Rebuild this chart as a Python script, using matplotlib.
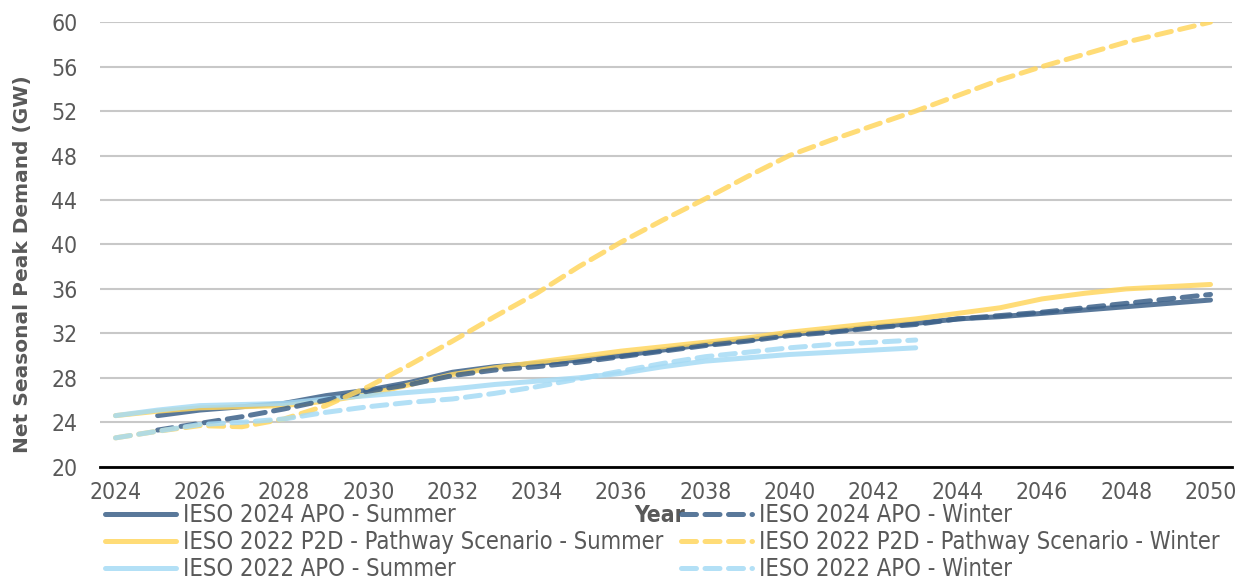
import matplotlib
matplotlib.use("Agg")
import matplotlib.pyplot as plt

plt.rcParams["font.family"] = ["DejaVu Sans"]
plt.rcParams["font.stretch"] = "condensed"

YEARS_2024_APO = list(range(2025, 2051))
YEARS_P2D = list(range(2024, 2051))
YEARS_2022_APO = list(range(2024, 2044))

APO_2024_SUMMER = [24.6, 25.1, 25.4, 25.7, 26.4, 26.9, 27.6, 28.5, 29.0, 29.3, 29.6, 30.0, 30.5,
                   31.0, 31.4, 31.9, 32.2, 32.6, 32.9, 33.3, 33.5, 33.8, 34.1, 34.4, 34.7, 35.0]
APO_2024_WINTER = [23.3, 23.9, 24.5, 25.2, 26.0, 26.8, 27.4, 28.2, 28.7, 29.0, 29.4, 29.9, 30.4,
                   30.9, 31.3, 31.8, 32.1, 32.5, 32.8, 33.3, 33.6, 33.9, 34.3, 34.7, 35.1, 35.5]
P2D_SUMMER = [24.6, 25.0, 25.3, 25.4, 25.5, 25.9, 26.5, 27.4, 28.3, 28.9, 29.4, 29.9, 30.4, 30.8,
              31.2, 31.6, 32.1, 32.5, 32.9, 33.3, 33.8, 34.3, 35.1, 35.6, 36.0, 36.2, 36.4]
P2D_WINTER = [22.6, 23.2, 23.7, 23.6, 24.3, 25.5, 27.2, 29.2, 31.3, 33.5, 35.6, 38.0, 40.2, 42.2,
              44.1, 46.1, 48.0, 49.4, 50.7, 52.0, 53.4, 54.8, 56.0, 57.1, 58.2, 59.1, 60.0]
APO_2022_SUMMER = [24.6, 25.1, 25.5, 25.6, 25.7, 26.1, 26.4, 26.7, 27.0, 27.4, 27.7, 28.0, 28.4,
                   29.0, 29.5, 29.8, 30.1, 30.3, 30.5, 30.7]
APO_2022_WINTER = [22.6, 23.2, 23.8, 24.0, 24.3, 24.9, 25.4, 25.8, 26.1, 26.6, 27.2, 27.9, 28.6,
                   29.3, 29.9, 30.3, 30.7, 31.0, 31.2, 31.4]

DARK = "#3C6189"
YELLOW = "#FFD65F"
LIGHT = "#A6DBF5"
TEXT = "#595959"

fig = plt.figure(figsize=(12.44, 5.82), dpi=100)
ax = fig.add_axes([0.08, 0.198, 0.91, 0.764])

lw = 3.6
dash = dict(linestyle=(0, (3, 1.7)), dash_capstyle="round")

series = [
    (YEARS_2024_APO, APO_2024_SUMMER, DARK, False, "IESO 2024 APO - Summer"),
    (YEARS_P2D, P2D_SUMMER, YELLOW, False, "IESO 2022 P2D - Pathway Scenario - Summer"),
    (YEARS_2022_APO, APO_2022_SUMMER, LIGHT, False, "IESO 2022 APO - Summer"),
    (YEARS_2024_APO, APO_2024_WINTER, DARK, True, "IESO 2024 APO - Winter"),
    (YEARS_P2D, P2D_WINTER, YELLOW, True, "IESO 2022 P2D - Pathway Scenario - Winter"),
    (YEARS_2022_APO, APO_2022_WINTER, LIGHT, True, "IESO 2022 APO - Winter"),
]

handles = []
for x, y, color, dashed, label in series:
    kw = dash if dashed else dict(solid_capstyle="round")
    line, = ax.plot(x, y, color=color, lw=lw, alpha=0.85, label=label, **kw)
    handles.append(line)

ax.set_xlim(2023.62, 2050.5)
ax.set_ylim(20, 60)
ax.set_xticks(range(2024, 2051, 2))
ax.set_yticks(range(20, 61, 4))
ax.grid(axis="y", color="#C8C8C8", lw=1.5)
ax.set_axisbelow(True)
for s in ["top", "right", "left"]:
    ax.spines[s].set_visible(False)
ax.spines["bottom"].set_color("black")
ax.spines["bottom"].set_linewidth(2)
ax.tick_params(axis="both", length=0, labelsize=16.5, colors=TEXT)
ax.tick_params(axis="y", pad=16)
ax.tick_params(axis="x", pad=10)

ax.set_ylabel("Net Seasonal Peak Demand (GW)", fontsize=14.5, fontweight="bold",
              color=TEXT, fontstretch="normal")
ax.yaxis.set_label_coords(-0.06, 0.455)
fig.text(0.53, 0.115, "Year", fontsize=16.5, fontweight="bold", color=TEXT,
         ha="center", va="center")

fig.legend(handles=handles, ncol=2, loc="upper left", bbox_to_anchor=(0.077, 0.152),
           frameon=False, fontsize=17, handlelength=3.0, labelspacing=0.13,
           columnspacing=0.75, handletextpad=0.3, borderaxespad=0,
           labelcolor=TEXT)

fig.savefig("out.png", dpi=100)
